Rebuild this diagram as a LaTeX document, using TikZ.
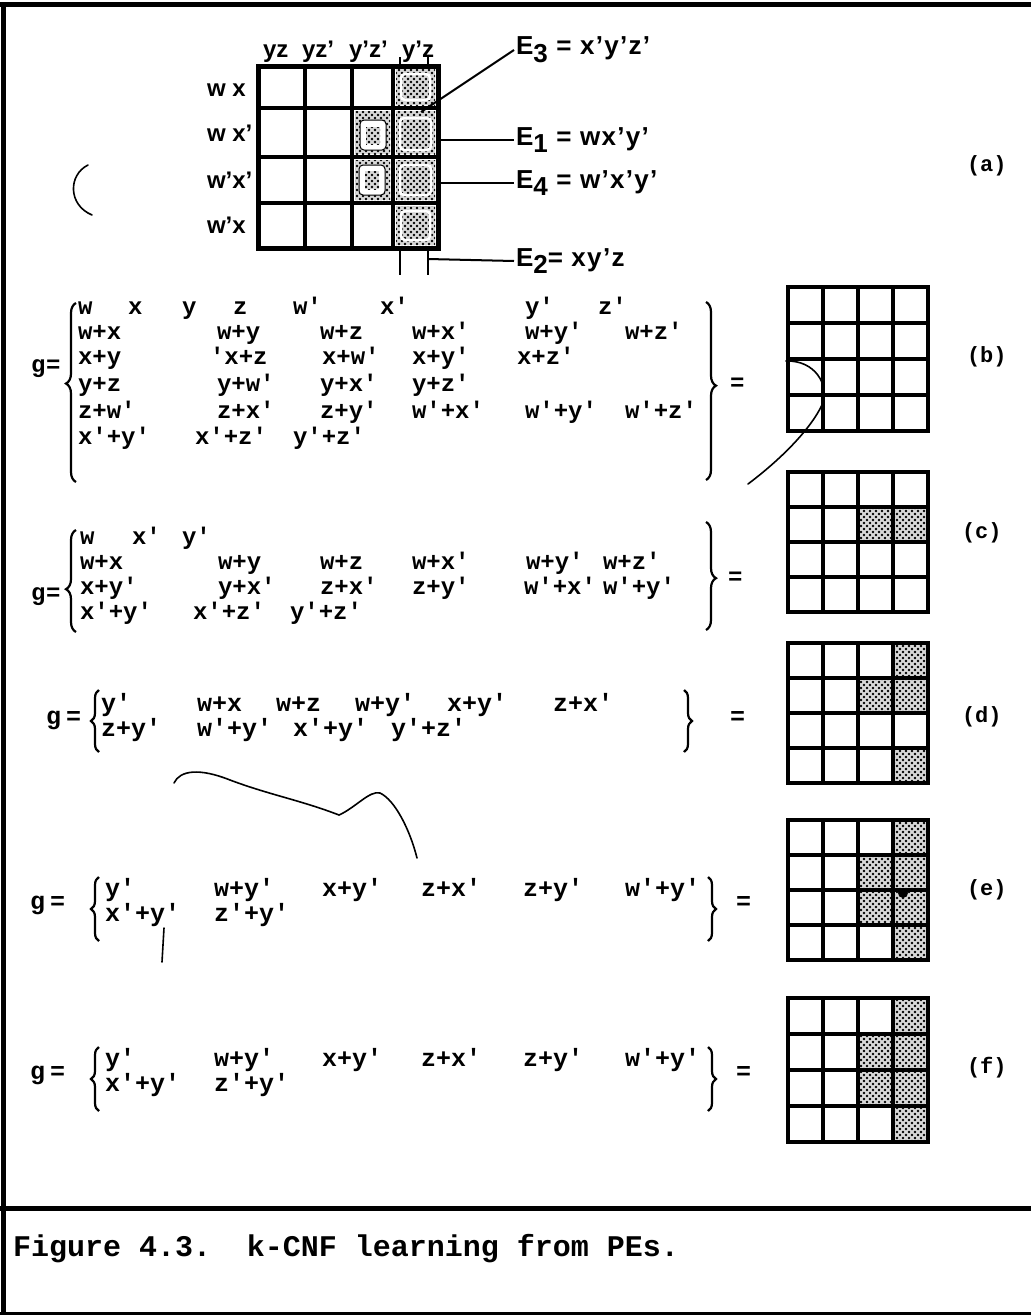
\documentclass[tikz,border=0pt]{standalone}
\usepackage{fontspec}
\setmainfont{Liberation Sans}
\newfontfamily\monof{Liberation Mono}
\newfontfamily\sansf{Liberation Sans}
\newfontfamily\sansw{Liberation Sans}[LetterSpace=5]
\usetikzlibrary{patterns.meta,decorations.pathreplacing}
\newcommand\fsz[1]{\fontsize{#1}{#1}\selectfont}
\newcommand\sbs[1]{\raisebox{-0.3em}{#1}}
\tikzset{
  every node/.style={inner sep=0pt, outer sep=0pt},
  klab/.style={font=\sansf\bfseries\fsz{24}, anchor=base west},
  elab/.style={font=\sansw\bfseries\fsz{26}, anchor=west, inner sep=2pt},
  eqb/.style={font=\monof\bfseries\fsz{24}, anchor=base west},
  eqd/.style={font=\monof\bfseries\fsz{25}, anchor=base west},
  plab/.style={font=\monof\bfseries\fsz{22}, anchor=west},
  framel/.style={line width=5pt},
  gline/.style={line width=4pt, line cap=rect},
  eline/.style={line width=2pt},
  lbrace/.style={decorate, decoration={brace, amplitude=10pt, aspect=#1}, line width=2.2pt},
  lbrace/.default=0.5,
  sbrace/.style={decorate, decoration={brace, amplitude=8pt, aspect=#1}, line width=2.2pt},
  sbrace/.default=0.5,
  noise/.style={line width=1.6pt, line cap=round},
  dotsA/.style={pattern={Dots[distance=6pt,radius=1.3pt]}, pattern color=black},
  dotsB/.style={pattern={Dots[distance=6pt,radius=1.3pt,xshift=3pt,yshift=3pt]}, pattern color=black},
}
\newcommand\dotcell[4]{%
  \fill[black!15] ({#1},{#2}) rectangle ({#3},{#4});
  \fill[dotsA] ({#1},{#2}) rectangle ({#3},{#4});
  \fill[dotsB] ({#1},{#2}) rectangle ({#3},{#4});}
\newcommand\smallgrid[3]{% x y rowheight
  \begin{scope}[shift={(#1,#2)}]
  \draw[gline] (0,0) rectangle (140,4*#3);
  \foreach \i in {1,2,3} {\draw[gline] (\i*35,0) -- (\i*35,4*#3);
    \draw[gline] (0,\i*#3) -- (140,\i*#3);}
  \end{scope}}
\newcommand\shadecell[5]{% gridx gridy rowheight col row
  \begin{scope}[shift={(#1,#2)}]
  \dotcell{(#4-1)*35+2}{(#5-1)*#3+2}{#4*35-2}{#5*#3-2}
  \end{scope}}
\begin{document}
\begin{tikzpicture}[x=1pt,y=-1pt]
\useasboundingbox (0,0) rectangle (1031,1315);
\fill[white] (0,0) rectangle (1031,1315);
% frame
\draw[framel] (0,4) -- (1031,4);
\draw[framel] (3,4) -- (3,1315);
\draw[framel] (0,1208) -- (1031,1208);
\draw[line width=3pt] (0,1313) -- (1031,1313);

% ---------- (a) ----------
\dotcell{396}{69}{435}{105}
\draw[white, line width=2.5pt, rounded corners=4pt] (401,74) rectangle (430,100);
\dotcell{396}{111}{435}{154}
\draw[white, line width=2.5pt, rounded corners=4pt] (400,118) rectangle (431,150);
\dotcell{396}{160}{435}{200}
\draw[white, line width=2.5pt, rounded corners=4pt] (400,165) rectangle (431,195);
\dotcell{396}{206}{435}{245}
\draw[white, line width=2.5pt, rounded corners=4pt] (401,211) rectangle (430,240);
\dotcell{355}{111}{390}{154}
\draw[fill=white, line width=1pt, rounded corners=4pt] (360,120) rectangle (386,150);
\dotcell{366}{127}{380}{144}
\dotcell{355}{160}{390}{200}
\draw[fill=white, line width=1pt, rounded corners=4pt] (359,165) rectangle (385,195);
\dotcell{365}{171}{379}{189}
\draw[gline, line width=5pt] (258,66) rectangle (438,248);
\foreach \xx in {305,352,393} \draw[gline] (\xx,66) -- (\xx,248);
\foreach \yy in {108,157,203} \draw[gline] (258,\yy) -- (438,\yy);

\node[klab] (h1) at (263,57) {yz};
\node[klab] (h2) at (302,57) {yz’};
\node[klab] (h3) at (349,57) {y’z’};
\node[klab] (h4) at (402,57) {y’z};
\node[klab] (r1) at (207,96) {w x};
\node[klab] (r2) at (207,141) {w x’};
\node[klab] (r3) at (207,188) {w’x’};
\node[klab] (r4) at (207,233) {w’x};

\node[elab] (e3) at (514,50) {E\sbs{3} = x’y’z’};
\node[elab] (e1) at (514,140) {E\sbs{1} = wx’y’};
\node[elab] (e4) at (514,183) {E\sbs{4} = w’x’y’};
\node[elab] (e2) at (514,261) {E\sbs{2}= xy’z};
\coordinate (e3s) at (421,112);
\coordinate (e1s) at (438,140);
\coordinate (e4s) at (438,183);
\coordinate (e2a) at (400,248);
\coordinate (e2b) at (428,248);
\coordinate (e2c) at (428,259);
\coordinate (t1) at (400,57);
\coordinate (t2) at (428,57);
\draw[eline] (e3s) -- (e3.west);
\draw[eline] (e1s) -- (e1.west);
\draw[eline] (e4s) -- (e4.west);
\draw[eline] (e2a) -- ++(0,27);
\draw[eline] (e2b) -- ++(0,27);
\draw[eline] (e2c) -- (e2.west);
\draw[eline] (t1) -- ++(0,9);
\draw[eline] (t2) -- ++(0,9);
\node[plab] (la) at (967,166) {(a)};

% ---------- (b) ----------
\node[eqb] (bg) at (31,372) {g};
\node[eqb] (be) at (46,372) {=};
\draw[lbrace=0.55] (76,482) -- (76,303);
\foreach \xx/\s [count=\i] in {78/w,128/x,182/y,233/z,293/w',380/x',525/y',598/z'}
  \node[eqb] (b1-\i) at (\xx,314) {\s};
\foreach \xx/\s [count=\i] in {78/w+x,217/w+y,320/w+z,412/w+x',525/w+y',625/w+z'}
  \node[eqb] (b2-\i) at (\xx,339) {\s};
\foreach \xx/\s [count=\i] in {78/x+y,210/'x+z,322/x+w',412/x+y',517/x+z'}
  \node[eqb] (b3-\i) at (\xx,364) {\s};
\foreach \xx/\s [count=\i] in {78/y+z,217/y+w',320/y+x',412/y+z'}
  \node[eqb] (b4-\i) at (\xx,391) {\s};
\foreach \xx/\s [count=\i] in {78/z+w',217/z+x',320/z+y',412/w'+x',525/w'+y',625/w'+z'}
  \node[eqb] (b5-\i) at (\xx,418) {\s};
\foreach \xx/\s [count=\i] in {78/x'+y',195/x'+z',293/y'+z'}
  \node[eqb] (b6-\i) at (\xx,444) {\s};
\draw[lbrace=0.47] (706,302) -- (706,480);
\node[eqb] (be2) at (730,390) {=};
\smallgrid{788}{287}{36}
\node[plab] (lb) at (967,357) {(b)};

% ---------- (c) ----------
\node[eqb] (cg) at (31,600) {g};
\node[eqb] (ce) at (46,600) {=};
\draw[lbrace=0.42] (76,632) -- (76,530);
\foreach \xx/\s [count=\i] in {80/w,132/x',182/y'}
  \node[eqb] (c1-\i) at (\xx,544) {\s};
\foreach \xx/\s [count=\i] in {80/w+x,218/w+y,320/w+z,412/w+x',526/w+y',603/w+z'}
  \node[eqb] (c2-\i) at (\xx,569) {\s};
\foreach \xx/\s [count=\i] in {80/x+y',218/y+x',320/z+x',412/z+y',524/w'+x',603/w'+y'}
  \node[eqb] (c3-\i) at (\xx,594) {\s};
\foreach \xx/\s [count=\i] in {80/x'+y',193/x'+z',290/y'+z'}
  \node[eqb] (c4-\i) at (\xx,619) {\s};
\draw[lbrace=0.52] (706,522) -- (706,630);
\node[eqb] (ce2) at (728,584) {=};
\shadecell{788}{472}{35}{3}{2}\shadecell{788}{472}{35}{4}{2}
\smallgrid{788}{472}{35}
\node[plab] (lc) at (962,533) {(c)};

% ---------- (d) ----------
\node[eqd] (dg) at (46,724) {g};
\node[eqd] (de) at (66,724) {=};
\draw[sbrace=0.5] (99,752) -- (99,690);
\foreach \xx/\s [count=\i] in {101/y',197/w+x,276/w+z,355/w+y',447/x+y',553/z+x'}
  \node[eqd] (d1-\i) at (\xx,711) {\s};
\foreach \xx/\s [count=\i] in {101/z+y',197/w'+y',293/x'+y',391/y'+z'}
  \node[eqd] (d2-\i) at (\xx,736) {\s};
\draw[sbrace=0.5] (684,690) -- (684,752);
\node[eqd] (de2) at (730,724) {=};
\shadecell{788}{643}{35}{4}{1}\shadecell{788}{643}{35}{3}{2}\shadecell{788}{643}{35}{4}{2}\shadecell{788}{643}{35}{4}{4}
\smallgrid{788}{643}{35}
\node[plab] (ld) at (962,717) {(d)};

% ---------- (e) ----------
\node[eqd] (eg) at (30,909) {g};
\node[eqd] (ee) at (50,909) {=};
\draw[sbrace=0.5] (99,941) -- (99,877);
\foreach \xx/\s [count=\i] in {105/y',214/w+y',322/x+y',421/z+x',523/z+y',625/w'+y'}
  \node[eqd] (e1-\i) at (\xx,896) {\s};
\foreach \xx/\s [count=\i] in {105/x'+y',214/z'+y'}
  \node[eqd] (e2-\i) at (\xx,921) {\s};
\draw[sbrace=0.5] (708,877) -- (708,941);
\node[eqd] (ee2) at (736,909) {=};
\shadecell{788}{820}{35}{4}{1}\shadecell{788}{820}{35}{3}{2}\shadecell{788}{820}{35}{4}{2}
\shadecell{788}{820}{35}{3}{3}\shadecell{788}{820}{35}{4}{3}\shadecell{788}{820}{35}{4}{4}
\fill (903,893) circle (5);
\smallgrid{788}{820}{35}
\node[plab] (le) at (967,890) {(e)};

% ---------- (f) ----------
\node[eqd] (fg) at (30,1079) {g};
\node[eqd] (fe) at (50,1079) {=};
\draw[sbrace=0.5] (99,1111) -- (99,1047);
\foreach \xx/\s [count=\i] in {105/y',214/w+y',322/x+y',421/z+x',523/z+y',625/w'+y'}
  \node[eqd] (f1-\i) at (\xx,1066) {\s};
\foreach \xx/\s [count=\i] in {105/x'+y',214/z'+y'}
  \node[eqd] (f2-\i) at (\xx,1091) {\s};
\draw[sbrace=0.5] (708,1047) -- (708,1111);
\node[eqd] (fe2) at (736,1079) {=};
\shadecell{788}{998}{36}{4}{1}\shadecell{788}{998}{36}{3}{2}\shadecell{788}{998}{36}{4}{2}
\shadecell{788}{998}{36}{3}{3}\shadecell{788}{998}{36}{4}{3}\shadecell{788}{998}{36}{4}{4}
\smallgrid{788}{998}{36}
\node[plab] (lf) at (967,1068) {(f)};

% caption
\node[font=\monof\bfseries\fsz{30}, anchor=base west] (cap) at (13,1256) {Figure 4.3.\ \ k-CNF learning from PEs.};

% scan marks
\draw[noise] (88,165) .. controls (68,175) and (68,205) .. (92,215);
\draw[noise] (786,361) .. controls (815,360) and (830,385) .. (822,405) .. controls (810,430) and (780,460) .. (748,484);
\draw[noise] (174,783) .. controls (180,770) and (200,768) .. (230,780) .. controls (270,795) and (300,800) .. (339,815) .. controls (355,808) and (370,790) .. (380,793) .. controls (395,800) and (410,830) .. (417,858);
\draw[noise] (164,928) -- (162,962);
\end{tikzpicture}
\end{document}
